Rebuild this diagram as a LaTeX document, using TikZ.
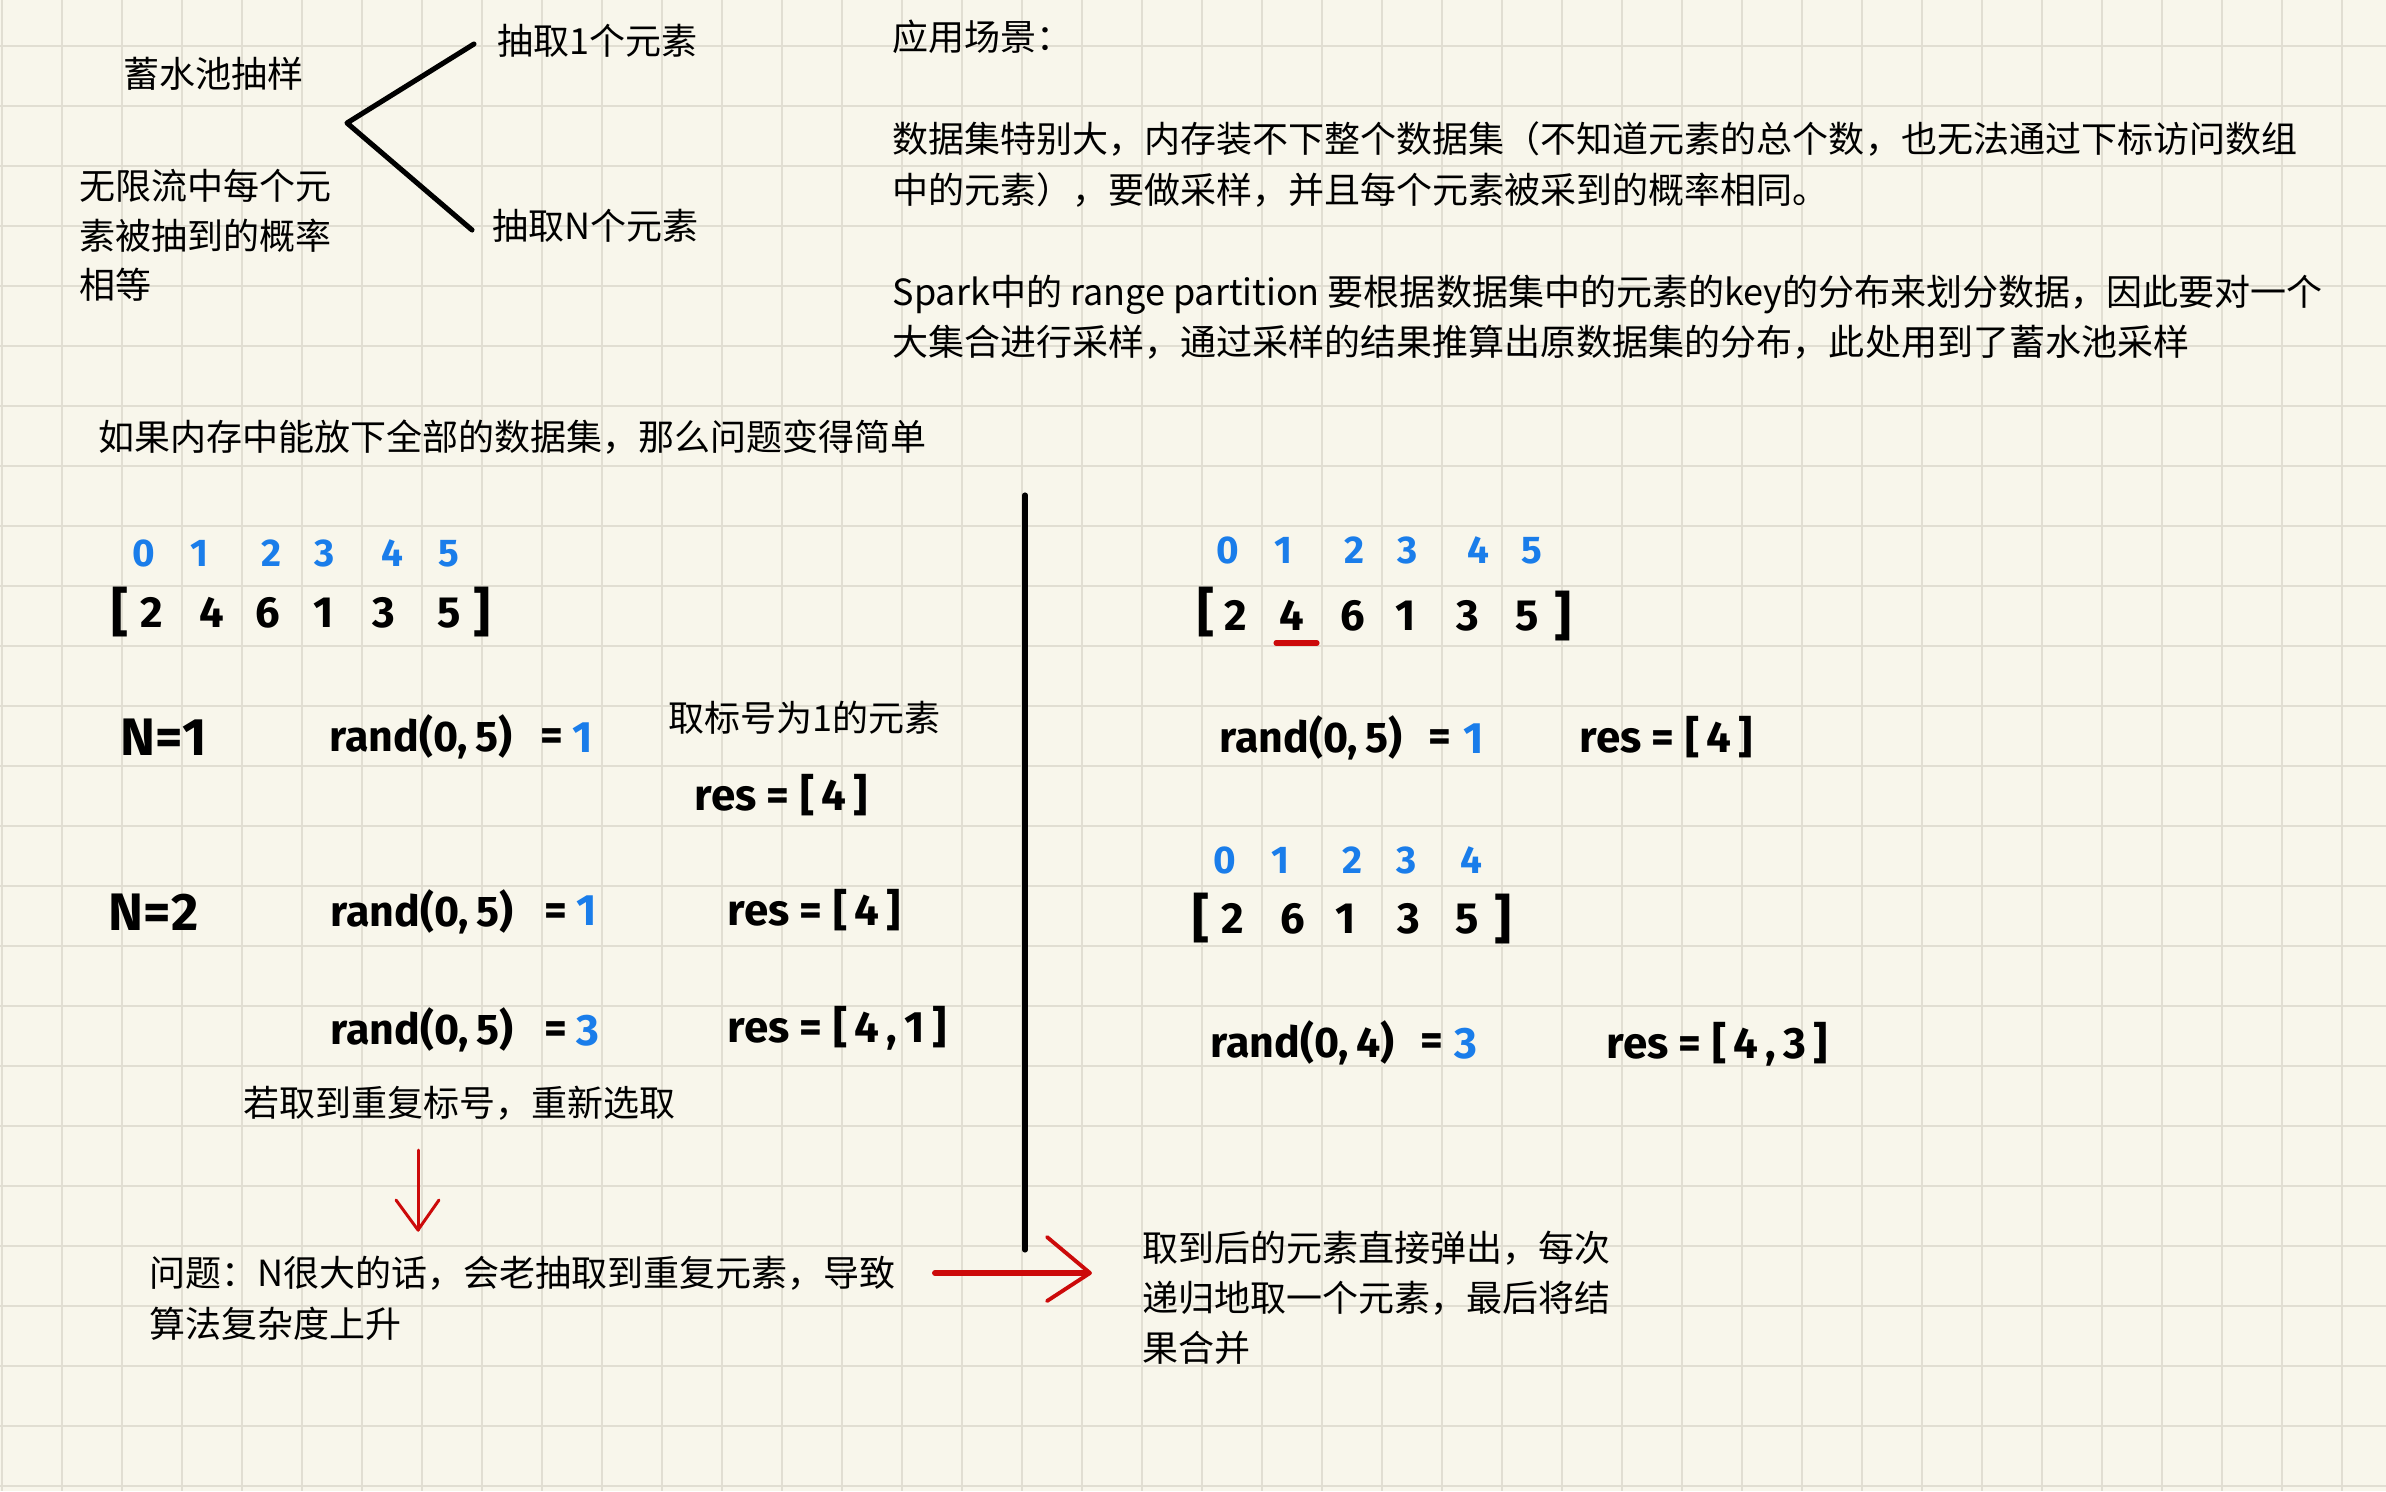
\documentclass[tikz,border=0pt]{standalone}
\usepackage{fontspec}
\setmainfont{Noto Sans CJK SC}
\newfontfamily\hand{Fira Sans}
\definecolor{paper}{HTML}{F8F6EB}
\definecolor{gridc}{HTML}{E1DED2}
\definecolor{idxblue}{HTML}{1A7DEA}
\definecolor{penred}{HTML}{CC0A0A}
\tikzset{
  cn/.style={anchor=west, inner sep=0pt, font=\fontsize{10.24pt}{14pt}\selectfont, text height=9pt, text depth=1.23pt},
  idx/.style={inner sep=0pt, text=idxblue, font=\hand\bfseries\fontsize{11pt}{11pt}\selectfont, text height=7.6pt, text depth=0pt},
  arr/.style={inner sep=0pt, font=\hand\bfseries\fontsize{12.4pt}{12pt}\selectfont, text height=8.6pt, text depth=0pt},
  brk/.style={inner sep=0pt, font=\hand\bfseries\fontsize{15pt}{15pt}\selectfont},
  expr/.style={anchor=west, inner sep=0pt, font=\hand\bfseries\fontsize{12.5pt}{12pt}\selectfont, text height=8.7pt, text depth=0pt},
  randx/.style={anchor=west, inner sep=0pt, font=\hand\bfseries\fontsize{12.2pt}{12pt}\selectfont, text height=8.5pt, text depth=0pt},
  val/.style={expr, anchor=center, text=idxblue},
  eqs/.style={expr, anchor=center},
  bign/.style={anchor=west, inner sep=0pt, font=\hand\bfseries\fontsize{15pt}{15pt}\selectfont, text height=10.4pt, text depth=0pt},
  pen/.style={line width=1.45pt, line cap=round, line join=round},
  redpen/.style={draw=penred, line cap=round, line join=round},
}
\begin{document}
\begin{tikzpicture}[x=0.01cm, y=-0.01cm]
\useasboundingbox (0,0) rectangle (2386,1491);
\fill[paper] (0,0) rectangle (2386,1491);
\foreach \k in {0,...,39} \draw[gridc, line width=0.5pt] ({1.7+60*\k},0) -- ({1.7+60*\k},1491);
\foreach \k in {0,...,24} \draw[gridc, line width=0.5pt] (0,{46+60*\k}) -- (2386,{46+60*\k});

% top-left mind map
\node[cn] (t1) at (123,74) {蓄水池抽样};
\node[cn] (t2a) at (79,186) {无限流中每个元};
\node[cn] (t2b) at (79,236) {素被抽到的概率};
\node[cn] (t2c) at (79,285) {相等};
\node[cn] (t3) at (497,41) {抽取1个元素};
\node[cn] (t4) at (492,226) {抽取N个元素};
\coordinate (vtx) at (347,123);
\coordinate (up) at (474,44);
\coordinate (dn) at (472,230);
\draw[pen] (up) -- (vtx) -- (dn);

% application text
\node[cn] (t5) at (892,37) {应用场景：};
\node[cn] (t6) at (892,139) {数据集特别大，内存装不下整个数据集（不知道元素的总个数，也无法通过下标访问数组};
\node[cn] (t7) at (892,190) {中的元素），要做采样，并且每个元素被采到的概率相同。};
\node[cn] (t8) at (892,292) {Spark中的 range partition 要根据数据集中的元素的key的分布来划分数据，因此要对一个};
\node[cn] (t9) at (892,342) {大集合进行采样，通过采样的结果推算出原数据集的分布，此处用到了蓄水池采样};
\node[cn] (t10) at (98,437) {如果内存中能放下全部的数据集，那么问题变得简单};

% divider
\coordinate (dtop) at (1025,495);
\coordinate (dbot) at (1025,1250);
\draw[pen] (dtop) -- (dbot);

% left block
\foreach \d/\x in {0/144,1/199,2/271,3/325,4/392,5/449}
  \node[idx] (li\d) at (\x,553) {\d};
\foreach \d/\x/\n in {2/152/a,4/212/b,6/268/c,1/324/d,3/384/e,5/449/f}
  \node[arr] (la\n) at (\x,612) {\d};
\node[brk] (lbl) at (120,612) {[};
\node[brk] (lbr) at (482,612) {]};

\node[bign] (n1) at (120,737) {N=1};
\node[randx] (r1) at (329,737) {rand(0,\,5)};
\node[eqs] (e1) at (552,735) {=};
\node[val] (v1) at (583,737) {1};
\node[cn] (t11) at (668,718) {取标号为1的元素};
\node[expr] (s1) at (694,795) {res = [\,4\,]};

\node[bign] (n2) at (108,912) {N=2};
\node[randx] (r2) at (330,912) {rand(0,\,5)};
\node[eqs] (e2) at (556,910) {=};
\node[val] (v2) at (587,910) {1};
\node[expr] (s2) at (727,910) {res = [\,4\,]};

\node[randx] (r3) at (330,1030) {rand(0,\,5)};
\node[eqs] (e3) at (556,1028) {=};
\node[val] (v3) at (588,1030) {3};
\node[expr] (s3) at (727,1027) {res = [\,4\,,\,1\,]};

\node[cn] (t12) at (243,1103) {若取到重复标号，重新选取};
\node[cn] (t13a) at (149,1273) {问题：N很大的话，会老抽取到重复元素，导致};
\node[cn] (t13b) at (149,1324) {算法复杂度上升};

\coordinate (da0) at (418,1150);
\coordinate (da1) at (418,1230);
\draw[redpen, line width=0.85pt] (da0) -- (da1);
\draw[redpen, line width=0.85pt] (396,1200) -- (da1) -- (439,1200);

\coordinate (ra0) at (935,1273);
\coordinate (ra1) at (1090,1273);
\draw[redpen, line width=1.7pt] (ra0) -- (1086,1273);
\draw[redpen, line width=1.1pt] (1047,1237) -- (ra1) -- (1047,1301);

\node[cn] (t14a) at (1142,1248) {取到后的元素直接弹出，每次};
\node[cn] (t14b) at (1142,1298) {递归地取一个元素，最后将结};
\node[cn] (t14c) at (1142,1348) {果合并};

% right block
\foreach \d/\x in {0/1228,1/1283,2/1354,3/1408,4/1478,5/1532}
  \node[idx] (ri\d) at (\x,550) {\d};
\foreach \d/\x/\n in {2/1236/a,4/1292/b,6/1353/c,1/1406/d,3/1468/e,5/1527/f}
  \node[arr] (ra\n) at (\x,615) {\d};
\node[brk] (rbl) at (1206,612) {[};
\node[brk] (rbr) at (1563,616) {]};
\draw[redpen, line width=1.45pt] (1276,643) -- (1317,643);

\node[randx] (r4) at (1219,738) {rand(0,\,5)};
\node[eqs] (e4) at (1440,736) {=};
\node[val] (v4) at (1474,738) {1};
\node[expr] (s4) at (1579,737) {res = [\,4\,]};

\foreach \d/\x in {0/1225,1/1280,2/1352,3/1407,4/1471}
  \node[idx] (rj\d) at (\x,860) {\d};
\foreach \d/\x/\n in {2/1233/a,6/1293/b,1/1346/c,3/1409/d,5/1467/e}
  \node[arr] (rb\n) at (\x,918) {\d};
\node[brk] (rcl) at (1201,918) {[};
\node[brk] (rcr) at (1503,919) {]};

\node[randx] (r5) at (1210,1043) {rand(0,\,4)};
\node[eqs] (e5) at (1432,1040) {=};
\node[val] (v5) at (1466,1043) {3};
\node[expr] (s5) at (1606,1043) {res = [\,4\,,\,3\,]};
\end{tikzpicture}
\end{document}
